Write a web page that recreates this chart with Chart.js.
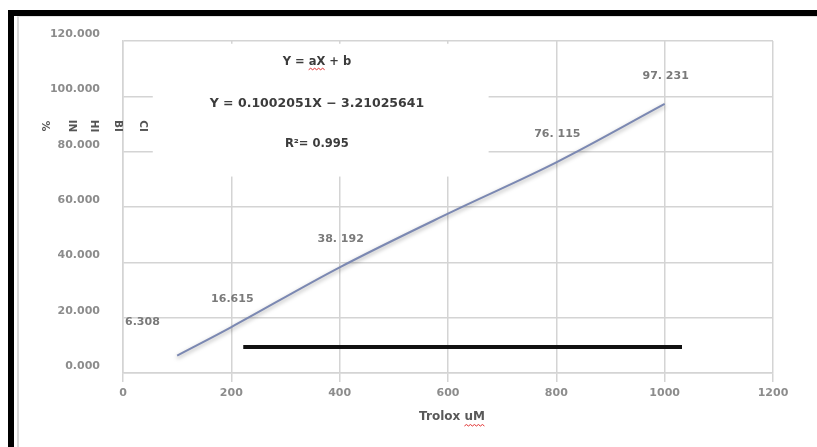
<!DOCTYPE html>
<html>
<head>
<meta charset="utf-8">
<script src="https://cdn.jsdelivr.net/npm/chart.js@4.4.0/dist/chart.umd.min.js"></script>
<style>
  html, body { margin: 0; padding: 0; background: #fff; }
  #wrap { position: relative; width: 817px; height: 447px; overflow: hidden; }
  #wrap canvas { position: absolute; left: 0; top: 0; }
  .frame { position: absolute; left: 8px; top: 10px; width: 830px; height: 460px;
           border-left: 6px solid #000; border-top: 6px solid #000; }
  .inner { position: absolute; left: 17px; top: 16px; width: 830px; height: 460px;
           border-left: 2px solid #dadada; border-top: 1px solid #e2e2e2; }
</style>
</head>
<body>
<div id="wrap">
  <canvas id="chart" width="817" height="447"></canvas>
  <div class="frame"></div>
  <div class="inner"></div>
</div>
<script>
// data
const xTicks = [0, 200, 400, 600, 800, 1000, 1200];
const yTicks = [0, 20, 40, 60, 80, 100, 120];
const troloxConc = [100, 200, 400, 600, 800, 1000];
const inhibition = [6.308, 16.615, 38.192, 57.6, 76.115, 97.231];
const pointLabels = ['6.308', '16.615', '38. 192', '', '76. 115', '97. 231'];
const baselineX = [222, 1032];
const baselineY = [9.4, 9.4];
const equationLines = ['Y = aX + b', 'Y = 0.1002051X \u2212 3.21025641', 'R\u00b2= 0.995'];
const yTitleParts = ['%', 'IN', 'HI', 'BI', 'CI'];
const xTitle = 'Trolox uM';

const FONT = '"DejaVu Sans", Verdana, sans-serif';

// red spell-check squiggle under a word
function squiggle(ctx, x0, x1, y) {
    ctx.save();
    ctx.strokeStyle = '#e03030';
    ctx.lineWidth = 1;
    ctx.beginPath();
    let up = true;
    ctx.moveTo(x0, y);
    for (let x = x0 + 2; x <= x1; x += 2) {
        ctx.lineTo(x, up ? y - 1.5 : y);
        up = !up;
    }
    ctx.stroke();
    ctx.restore();
}

// soft shadow under the fitted line, like the Excel effect
const lineShadow = {
    id: 'lineShadow',
    beforeDatasetDraw(chart, args) {
        if (args.index !== 0) return;
        const ctx = chart.ctx;
        ctx.save();
        ctx.shadowColor = 'rgba(0,0,0,0.35)';
        ctx.shadowBlur = 4;
        ctx.shadowOffsetY = 2;
    },
    afterDatasetDraw(chart, args) {
        if (args.index !== 0) return;
        chart.ctx.restore();
    }
};

// white text box with the regression equation
const equationBox = {
    id: 'equationBox',
    beforeDatasetsDraw(chart) {
        const { ctx, scales: { x, y } } = chart;
        const l = x.getPixelForValue(55), r = x.getPixelForValue(675);
        const t = y.getPixelForValue(119), b = y.getPixelForValue(71);
        ctx.save();
        ctx.fillStyle = '#fff';
        ctx.fillRect(l, t, r - l, b - t);
        ctx.restore();
    },
    afterDraw(chart) {
        const { ctx, scales: { x, y } } = chart;
        const cx = x.getPixelForValue(358);
        const rows = [112.5, 97.3, 82.8];
        const sizes = [11.5, 12.5, 11.5];
        ctx.save();
        ctx.fillStyle = '#3c3c3c';
        ctx.textAlign = 'center';
        ctx.textBaseline = 'middle';
        equationLines.forEach((s, i) => {
            ctx.font = 'bold ' + sizes[i] + 'px ' + FONT;
            ctx.fillText(s, cx, y.getPixelForValue(rows[i]));
        });
        // squiggle under "aX"
        ctx.font = 'bold ' + sizes[0] + 'px ' + FONT;
        const first = equationLines[0];
        const w = ctx.measureText(first).width;
        const startX = cx - w / 2 + ctx.measureText('Y = ').width;
        const endX = startX + ctx.measureText('aX').width;
        squiggle(ctx, startX, endX, y.getPixelForValue(rows[0]) + 8);

        // x axis title
        ctx.font = 'bold 12px ' + FONT;
        ctx.fillStyle = '#595959';
        const tx = 452, ty = 417;
        ctx.fillText(xTitle, tx, ty);
        const tw = ctx.measureText(xTitle).width;
        const uStart = tx - tw / 2 + ctx.measureText('Trolox ').width;
        squiggle(ctx, uStart, tx + tw / 2, ty + 9);

        // y axis title, rotated chunks
        ctx.font = 'bold 10.5px ' + FONT;
        ctx.fillStyle = '#555';
        const px = [45, 72, 94, 118, 143];
        yTitleParts.forEach((s, i) => {
            ctx.save();
            ctx.translate(px[i], 126);
            ctx.rotate(Math.PI / 2);
            ctx.fillText(s, 0, 0);
            ctx.restore();
        });
        ctx.restore();
    }
};

// data labels above the points
const pointLabelPlugin = {
    id: 'pointLabelPlugin',
    afterDatasetsDraw(chart) {
        const { ctx, scales: { x, y } } = chart;
        ctx.save();
        ctx.font = 'bold 11px ' + FONT;
        ctx.fillStyle = '#7a7a7a';
        ctx.textBaseline = 'middle';
        troloxConc.forEach((v, i) => {
            const s = pointLabels[i];
            if (!s) return;
            const px = x.getPixelForValue(v), py = y.getPixelForValue(inhibition[i]);
            if (i === 0) {
                ctx.textAlign = 'left';
                ctx.fillText(s, x.getPixelForValue(0) + 2, py - 33);
            } else {
                ctx.textAlign = 'center';
                ctx.fillText(s, px + 1, py - 28);
            }
        });
        ctx.restore();
    }
};

new Chart(document.getElementById('chart'), {
    type: 'line',
    data: {
        datasets: [{
            label: '% inhibition',
            data: troloxConc.map((v, i) => ({ x: v, y: inhibition[i] })),
            borderColor: '#7b88b2',
            borderWidth: 2,
            pointRadius: 0,
            tension: 0.35,
            fill: false
        }, {
            label: 'baseline',
            data: baselineX.map((v, i) => ({ x: v, y: baselineY[i] })),
            borderColor: '#111',
            borderWidth: 4,
            borderCapStyle: 'butt',
            pointRadius: 0,
            fill: false
        }]
    },
    options: {
        responsive: false,
        animation: false,
        devicePixelRatio: 1,
        layout: { padding: { left: 43, right: 44, top: 41, bottom: 0 } },
        plugins: { legend: { display: false }, tooltip: { enabled: false } },
        scales: {
            x: {
                type: 'linear',
                min: 0,
                max: 1200,
                afterBuildTicks: s => { s.ticks = xTicks.map(v => ({ value: v })); },
                afterFit: s => { s.height = 74; },
                grid: { color: '#d4d4d4', lineWidth: 1.5, tickLength: 9 },
                border: { color: '#d4d4d4', width: 1.5 },
                ticks: {
                    padding: 5,
                    maxRotation: 0,
                    color: '#8c8c8c',
                    font: { family: FONT, size: 11, weight: 'bold' },
                    callback: v => String(v)
                }
            },
            y: {
                min: 0,
                max: 120,
                afterBuildTicks: s => { s.ticks = yTicks.map(v => ({ value: v })); },
                afterFit: s => { s.width = 80; },
                grid: { color: '#d4d4d4', lineWidth: 1.5, drawTicks: false },
                border: { color: '#d4d4d4', width: 1.5 },
                ticks: {
                    padding: 23,
                    labelOffset: -7,
                    color: '#8c8c8c',
                    font: { family: FONT, size: 11, weight: 'bold' },
                    callback: v => Number(v).toFixed(3)
                }
            }
        }
    },
    plugins: [lineShadow, equationBox, pointLabelPlugin]
});
</script>
</body>
</html>
